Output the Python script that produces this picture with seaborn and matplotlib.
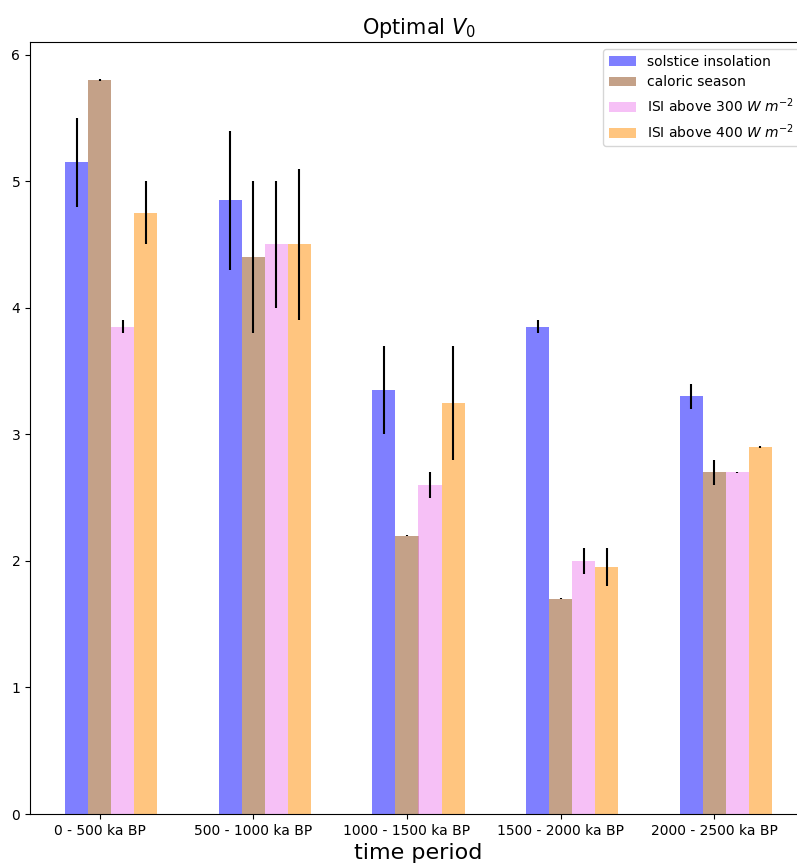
import numpy as np
import matplotlib
matplotlib.use("Agg")
import matplotlib.pyplot as plt
import seaborn as sns

# time periods (x axis)
periods = ["0 - 500 ka BP", "500 - 1000 ka BP", "1000 - 1500 ka BP",
           "1500 - 2000 ka BP", "2000 - 2500 ka BP"]

# optimal V0 per forcing, with error half-widths
solstice = [5.15, 4.85, 3.35, 3.85, 3.30]
solstice_err = [0.35, 0.55, 0.35, 0.05, 0.10]

caloric = [5.80, 4.40, 2.20, 1.70, 2.70]
caloric_err = [0.005, 0.60, 0.005, 0.005, 0.10]

isi300 = [3.85, 4.50, 2.60, 2.00, 2.70]
isi300_err = [0.05, 0.50, 0.10, 0.10, 0.005]

isi400 = [4.75, 4.50, 3.25, 1.95, 2.90]
isi400_err = [0.25, 0.60, 0.45, 0.15, 0.005]

series = [
    ("solstice insolation", solstice, solstice_err, "blue"),
    ("caloric season", caloric, caloric_err, "saddlebrown"),
    ("ISI above 300 $W\\ m^{-2}$", isi300, isi300_err, "violet"),
    ("ISI above 400 $W\\ m^{-2}$", isi400, isi400_err, "darkorange"),
]

width = 0.15
x = np.arange(len(periods))

fig = plt.figure(figsize=(7.97, 8.64), dpi=100)
ax = fig.add_axes([30 / 797, 50 / 864, 777 / 797, 772 / 864])

for i, (name, vals, errs, col) in enumerate(series):
    pos = x + (i - 1) * width
    sns.barplot(x=pos, y=vals, native_scale=True, width=width, color=col,
                alpha=0.5, saturation=1, errorbar=None, linewidth=0,
                label=name, ax=ax)
    ax.errorbar(pos, vals, yerr=errs, fmt="none", ecolor="black",
                elinewidth=1.5)

ax.set_xticks(x)
ax.set_xticklabels(periods)
ax.set_xlim(-0.455, 4.605)
ax.set_ylim(0, 6.1)
ax.set_xlabel("time period", fontsize=16)
ax.set_ylabel("")
ax.set_title("Optimal $V_0$", fontsize=15)
ax.legend(loc="upper right")

fig.savefig("out.png", dpi=100)
